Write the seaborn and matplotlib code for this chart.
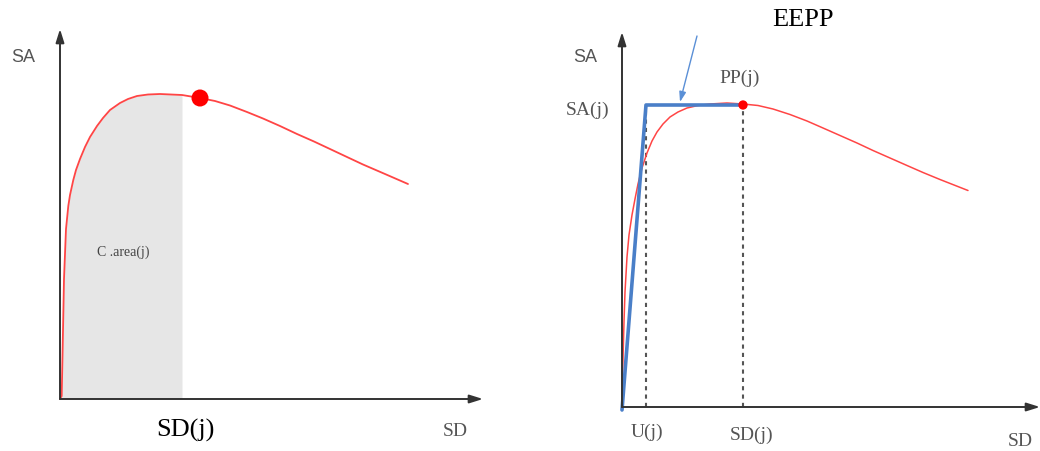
import numpy as np
import pandas as pd
import matplotlib
matplotlib.use("Agg")
import matplotlib.pyplot as plt
import seaborn as sns

# capacity curve, left panel (SD, SA)
left_sd = [0, 1.7, 2.7, 4, 6, 8.3, 10, 13.3, 16, 20, 25, 30, 37, 43, 50, 60, 68, 77, 88, 100, 122,
           140, 155, 170, 187, 203, 220, 237, 254, 270, 287, 303, 325, 348]
left_sa = [0, 3, 53, 120, 170, 193, 204, 219, 229, 240, 252, 262, 273, 281, 289, 296, 300, 303, 304.5, 305, 304,
           301, 298, 293.5, 287, 280.5, 273, 265, 257.5, 250, 242, 234.5, 225, 215]
left_sdj = 122          # limit of the shaded area
left_peak = (140, 301)  # red dot

# capacity curve, right panel
right_sd = [0, 0.5, 2, 3, 5, 7, 10, 13, 16, 20, 25, 30, 35, 41, 48, 56, 65, 76, 88, 105, 121,
            136, 151, 168, 185, 201, 218, 235, 251, 268, 285, 301, 318, 332, 346]
right_sa = [0, 30, 85, 115, 150, 172, 192, 208, 223, 239, 254, 266, 275, 283, 290, 295, 299, 301.5, 303, 304, 303,
            301.5, 298, 292.5, 286, 279, 271.5, 264, 256.5, 249, 241.5, 234.5, 227.5, 222, 216.5]
eepp_sd = [0, 24, 121]
eepp_sa = [-3, 302, 302]
u_j = 24
sd_j = 121
sa_j = 302

sns.set_style("white")
plt.rcParams['font.family'] = ['Liberation Serif', 'DejaVu Serif']

RED = "#ff4545"
BLUE = "#4a7fc8"
AXC = "#333333"

fig = plt.figure(figsize=(10.4, 4.52), dpi=100)


def make_axes(rect, xlim, ylim):
    ax = fig.add_axes(rect)
    ax.set_xlim(*xlim)
    ax.set_ylim(*ylim)
    ax.axis("off")
    return ax


def draw_axes_arrows(ax, xlen, ylen):
    kw = dict(arrowstyle="-|>,head_length=0.8,head_width=0.25", color=AXC, lw=1.4,
              shrinkA=0, shrinkB=0)
    ax.annotate("", xy=(xlen, 0), xytext=(0, 0), arrowprops=kw)
    ax.annotate("", xy=(0, ylen), xytext=(0, 0), arrowprops=kw)


# ---- left panel
ax1 = make_axes([0, 0, 0.5, 1], (-60, 460), (-52, 400))
df_l = pd.DataFrame({"SD": left_sd, "SA": left_sa})
shade = df_l[df_l["SD"] <= left_sdj]
ax1.fill_between(shade["SD"], 0, shade["SA"], color="#e6e6e6", lw=0)
sns.lineplot(data=df_l, x="SD", y="SA", ax=ax1, color=RED, lw=1.3, sort=False,
             solid_joinstyle="round")
sns.scatterplot(x=[left_peak[0]], y=[left_peak[1]], ax=ax1, color="#ff0000", s=150,
                edgecolor="none", zorder=5)
draw_axes_arrows(ax1, 423, 370)

ax1.text(-37, 343, "SA", fontsize=13, color="#555555", ha="center", va="center",
         family=["Liberation Sans"])
ax1.text(63, 148, "C .area(j)", fontsize=10, color="#444444", ha="center", va="center")
ax1.text(left_sdj + 3, -30, "SD(j)", fontsize=19, color="black", ha="center", va="center")
ax1.text(395, -32, "SD", fontsize=14, color="#555555", ha="center", va="center")
ax1.set_xlabel("")
ax1.set_ylabel("")

# ---- right panel
ax2 = make_axes([0.5, 0, 0.5, 1], (-102, 418), (-44, 408))
df_r = pd.DataFrame({"SD": right_sd, "SA": right_sa})
for xv in (u_j, sd_j):
    ax2.plot([xv, xv], [0, sa_j], color="#555555", lw=1.5, ls=(0, (2, 2)))
sns.lineplot(data=df_r, x="SD", y="SA", ax=ax2, color=RED, lw=1.1, sort=False,
             solid_joinstyle="round")
sns.lineplot(x=eepp_sd, y=eepp_sa, ax=ax2, color=BLUE, lw=2.6, sort=False)
sns.scatterplot(x=[sd_j], y=[sa_j], ax=ax2, color="#ff0000", s=45, edgecolor="none", zorder=5)
draw_axes_arrows(ax2, 418, 375)

ax2.annotate("", xy=(58, 305), xytext=(75, 371),
             arrowprops=dict(arrowstyle="-|>,head_length=0.6,head_width=0.2",
                             color="#5a8fd6", lw=1.0, shrinkA=0, shrinkB=0))
ax2.text(181, 388, "EEPP", fontsize=19, color="black", ha="center", va="center")
ax2.text(-37, 351, "SA", fontsize=13, color="#555555", ha="center", va="center",
         family=["Liberation Sans"])
ax2.text(-34, 298, "SA(j)", fontsize=14, color="#555555", ha="center", va="center")
ax2.text(118, 330, "PP(j)", fontsize=14, color="#555555", ha="center", va="center")
ax2.text(25, -24, "U(j)", fontsize=14, color="#555555", ha="center", va="center")
ax2.text(130, -27, "SD(j)", fontsize=14, color="#555555", ha="center", va="center")
ax2.text(398, -34, "SD", fontsize=14, color="#555555", ha="center", va="center")
ax2.set_xlabel("")
ax2.set_ylabel("")

fig.savefig("out.png", dpi=100, facecolor="white")
